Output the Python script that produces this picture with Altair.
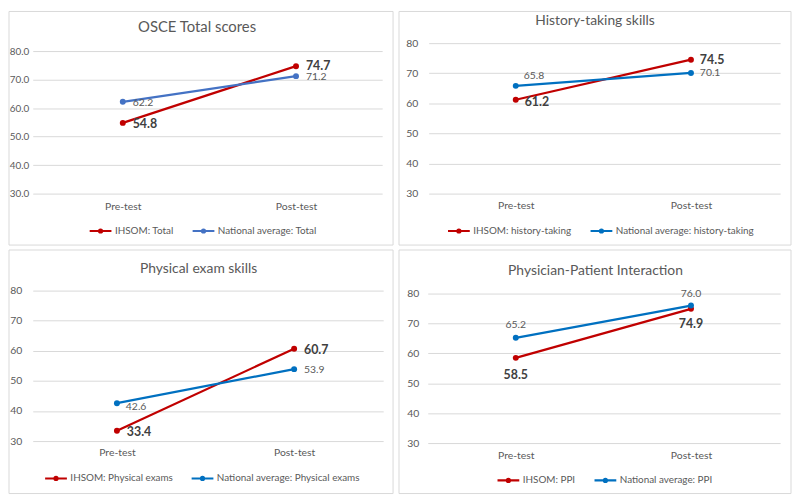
import altair as alt
import pandas as pd

periods = ["Pre-test", "Post-test"]
titles = ["OSCE Total scores", "History-taking skills", "Physical exam skills",
          "Physician-Patient Interaction"]
ihsom_names = ["IHSOM: Total", "IHSOM: history-taking", "IHSOM: Physical exams", "IHSOM: PPI"]
national_names = ["National average: Total", "National average: history-taking",
                  "National average: Physical exams", "National average: PPI"]
ihsom_values = [[54.8, 74.7], [61.2, 74.5], [33.4, 60.7], [58.5, 74.9]]
national_values = [[62.2, 71.2], [65.8, 70.1], [42.6, 53.9], [65.2, 76.0]]
y_ticks = [30, 40, 50, 60, 70, 80]
y_formats = [".1f", "d", "d", "d"]

RED = "#C00000"
BLUES = ["#4472C4", "#0070C0", "#0070C0", "#0070C0"]
FONT = "Lato"
GRAY = "#595959"
DARK = "#404040"
BORDER = "#d9d9d9"

# layout styles per panel (pixels relative to the plot area)
styles = [
    dict(w=353, h=152, ytop=82.778, xp=0.5086, xa=0.511, box=(-24, 364, -32, 204),
         tsize=15, tx=166, ty=-16, ypad=4, xpad=8, lx=56, ly=177),
    dict(w=355, h=152, ytop=80, xp=0.5028, xa=0.494, box=(-30, 366, -32, 204),
         tsize=14, tx=168, ty=-22, ypad=11, xpad=7, lx=18, ly=177),
    dict(w=354, h=152, ytop=80, xp=0.4888, xa=0.486, box=(-24, 364, -41, 205),
         tsize=14, tx=167.5, ty=-21.5, ypad=11, xpad=7, lx=11, ly=177),
    dict(w=356, h=151, ytop=80, xp=0.5056, xa=0.497, box=(-29, 367, -44, 202),
         tsize=14, tx=169.5, ty=-23, ypad=9, xpad=8, lx=69, ly=176),
]
# label placement: (series 0=IHSOM 1=national, period) -> (align, dx, dy)
placements = [
    {(0, 0): ("left", 10, 1), (0, 1): ("left", 10, 0), (1, 0): ("left", 10, 1), (1, 1): ("left", 10, 1)},
    {(0, 0): ("left", 9, 2), (0, 1): ("left", 9, 0), (1, 0): ("left", 8, -10), (1, 1): ("left", 9, 0)},
    {(0, 0): ("left", 10, 1), (0, 1): ("left", 10, 1), (1, 0): ("left", 9, 4), (1, 1): ("left", 10, 1)},
    {(0, 0): ("center", 0, 17), (0, 1): ("center", 0, 15), (1, 0): ("center", 0, -13), (1, 1): ("center", 0, -12)},
]

SYMBOL = "M-1,0H1M-0.14,0A0.14,0.14,0,1,0,0.14,0A0.14,0.14,0,1,0,-0.14,0Z"


def panel(i):
    st = styles[i]
    names = [ihsom_names[i], national_names[i]]
    vals = [ihsom_values[i], national_values[i]]
    rows = []
    for s in range(2):
        for p in range(2):
            rows.append({"period": periods[p], "series": names[s], "value": vals[s][p],
                         "s": s, "p": p})
    df = pd.DataFrame(rows)
    base = alt.Chart(df)
    one = alt.Chart(pd.DataFrame({"a": [0]}))

    x = alt.X("period:N", sort=periods,
              scale=alt.Scale(type="point", padding=st["xp"], align=st["xa"]),
              axis=alt.Axis(title=None, labelAngle=0, ticks=False, domain=False, grid=False,
                            labelPadding=st["xpad"], labelColor=GRAY, labelFontSize=10.5,
                            labelFont=FONT))
    y = alt.Y("value:Q", scale=alt.Scale(domain=[30, st["ytop"]], nice=False, zero=False),
              axis=alt.Axis(title=None, values=y_ticks, format=y_formats[i], ticks=False,
                            domain=False, gridColor=BORDER, gridWidth=1,
                            labelPadding=st["ypad"], labelColor=GRAY,
                            labelFontSize=10 if i == 0 else 10.5, labelFont=FONT))
    color = alt.Color("series:N",
                      scale=alt.Scale(domain=names, range=[RED, BLUES[i]]),
                      legend=alt.Legend(orient="none", legendX=st["lx"], legendY=st["ly"],
                                        direction="horizontal", title=None,
                                        symbolType=SYMBOL, symbolSize=484,
                                        symbolStrokeWidth=2.2, labelFontSize=10,
                                        labelColor=GRAY, labelFont=FONT, columnPadding=14,
                                        labelOffset=2, padding=0))

    x1, x2, y1, y2 = st["box"]
    box = one.mark_rect(fill="transparent", stroke=BORDER, strokeWidth=1).encode(
        x=alt.value(x1), x2=alt.value(x2), y=alt.value(y1), y2=alt.value(y2))
    title = one.mark_text(align="center", baseline="middle", font=FONT,
                          fontSize=st["tsize"], color=GRAY).encode(
        x=alt.value(st["tx"]), y=alt.value(st["ty"]), text=alt.value(titles[i]))

    line = base.mark_line(strokeWidth=2.25,
                          point=alt.OverlayMarkDef(filled=True, size=36)).encode(
        x=x, y=y, color=color)

    layers = [box, title, line]
    for (s, p), (align, dx, dy) in placements[i].items():
        bold = s == 0
        t = base.transform_filter(
            (alt.datum.s == s) & (alt.datum.p == p)
        ).mark_text(align=align, dx=dx, dy=dy, baseline="middle", font=FONT,
                    fontSize=12.5 if bold else 10.5,
                    fontWeight="bold" if bold else "normal",
                    color=DARK if bold else GRAY).encode(
            x=x, y=y, text=alt.Text("value:Q", format=".1f"))
        layers.append(t)

    return alt.layer(*layers).properties(width=st["w"], height=st["h"])


chart = alt.concat(panel(0), panel(1), panel(2), panel(3), columns=2, align="none",
                   spacing={"row": 3, "column": 4}).resolve_scale(
    color="independent").configure(font=FONT, padding=0).configure_view(strokeWidth=0)
chart = chart.properties(padding=0)

chart.save("out.html", embed_options={"renderer": "svg", "actions": False})
